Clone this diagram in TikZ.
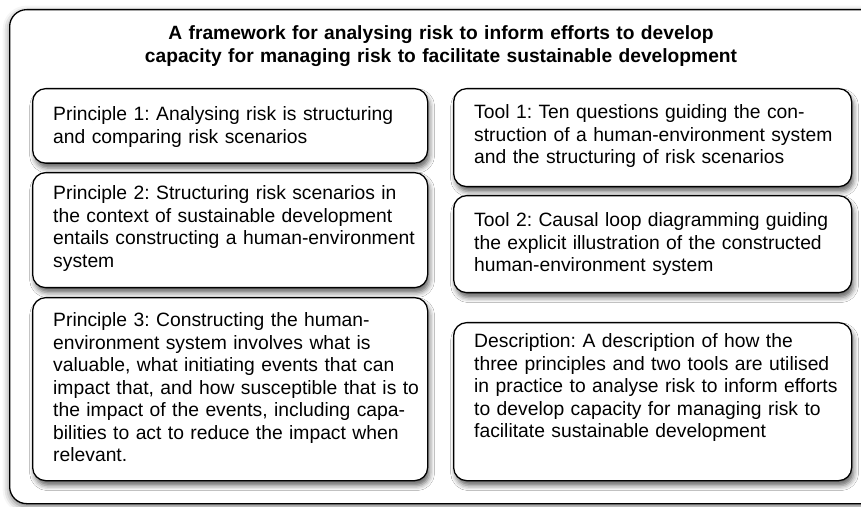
\documentclass[tikz,border=0pt]{standalone}
\usepackage{fontspec}
\setmainfont{Liberation Sans}
\usetikzlibrary{shadows.blur}
\frenchspacing
\begin{document}
\begin{tikzpicture}[x=1pt,y=1pt,
  box/.style={draw=black, line width=1.3pt, rounded corners=13pt, fill=white, anchor=north west, inner sep=0pt,
    blur shadow={shadow xshift=2pt, shadow yshift=-5pt, shadow blur radius=5pt, shadow opacity=60}},
  outerbox/.style={draw=black, line width=1.3pt, rounded corners=17pt, fill=white,
    blur shadow={shadow xshift=0pt, shadow yshift=-3pt, shadow blur radius=7pt, shadow opacity=55}},
  txt/.style={anchor=base west, inner sep=0pt, text width=385pt, align=left, font=\fontsize{19.3}{22.5}\selectfont}
]
\useasboundingbox (0,0) rectangle (861,506);
\node[outerbox, anchor=north west, minimum width=880pt, minimum height=494pt, inner sep=0pt] (frame) at (9,497) {};
\node[text width=800pt, align=center, anchor=base, inner sep=0pt, font=\bfseries\fontsize{19.2}{23.4}\selectfont] (title) at (441,466.7)
  {A framework for analysing risk to inform efforts to develop\\capacity for managing risk to facilitate sustainable development};

\node[box, minimum width=395pt, minimum height=74.5pt] (p1box) at (32,418) {};
\node[box, minimum width=395pt, minimum height=115pt] (p2box) at (32,334) {};
\node[box, minimum width=395pt, minimum height=183pt] (p3box) at (32,209) {};
\node[box, minimum width=398pt, minimum height=98pt] (t1box) at (453,418) {};
\node[box, minimum width=398pt, minimum height=97pt] (t2box) at (453,311) {};
\node[box, minimum width=398pt, minimum height=158pt] (dbox) at (453,184) {};

\node[txt] (p1) at (53,385.3) {Principle 1: Analysing risk is structuring\\and comparing risk scenarios};
\node[txt] (p2) at (53,306) {Principle 2: Structuring risk scenarios in\\the context of sustainable development\\entails constructing a human-environment\\system};
\node[txt] (p3) at (53,179) {Principle 3: Constructing the human-\\environment system involves what is\\valuable, what initiating events that can\\impact that, and how susceptible that is to\\the impact of the events, including capa-\\bilities to act to reduce the impact when\\relevant.};
\node[txt] (t1) at (474,387) {Tool 1: Ten questions guiding the con-\\struction of a human-environment system\\and the structuring of risk scenarios};
\node[txt] (t2) at (474,279.3) {Tool 2: Causal loop diagramming guiding\\the explicit illustration of the constructed\\human-environment system};
\node[txt] (d) at (474,158.3) {Description: A description of how the\\three principles and two tools are utilised\\in practice to analyse risk to inform efforts\\to develop capacity for managing risk to\\facilitate sustainable development};
\end{tikzpicture}
\end{document}
